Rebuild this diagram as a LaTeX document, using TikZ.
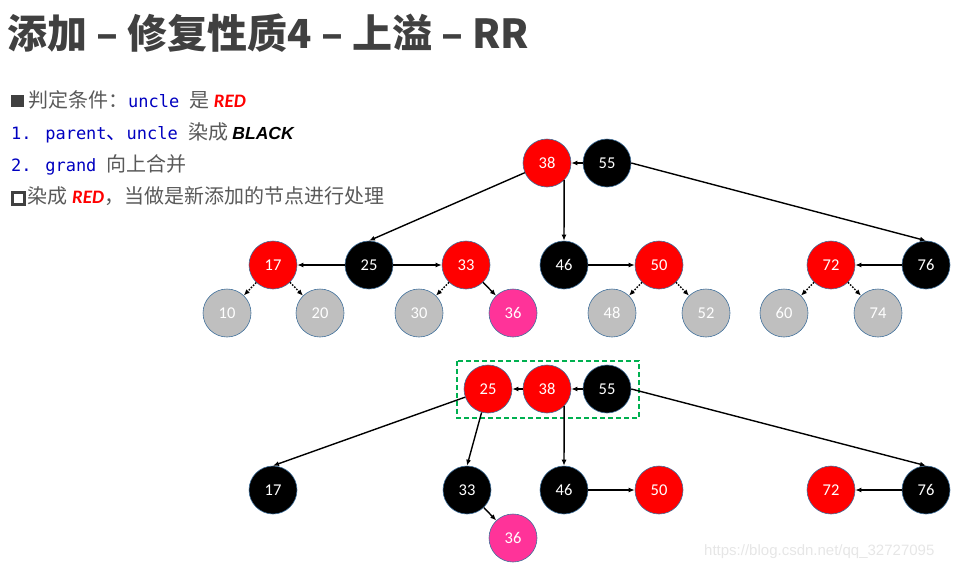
\documentclass[tikz,border=0pt]{standalone}
\usepackage{fontspec}
\setmainfont{Carlito}
\newfontfamily\cjk{Noto Sans CJK SC}
\newfontfamily\mono{DejaVu Sans Mono}
\newfontfamily\arialish{Liberation Sans}
\newfontfamily\wm{Liberation Sans}
\usetikzlibrary{arrows.meta}
\definecolor{bord}{HTML}{41719C}
\definecolor{rednode}{HTML}{FF0000}
\definecolor{graynode}{HTML}{BFBFBF}
\definecolor{pinknode}{HTML}{FF3399}
\definecolor{titlegray}{HTML}{404040}
\definecolor{bodygray}{HTML}{595959}
\definecolor{codeblue}{HTML}{0000C0}
\definecolor{boxgreen}{HTML}{00B050}
\definecolor{wmgray}{HTML}{E6E6E6}
\newcommand{\cj}[1]{{\cjk\fontsize{20}{20}\selectfont #1}}
\newcommand{\cd}[1]{{\mono\fontsize{17}{17}\selectfont\color{codeblue}#1}}
\newcommand{\redw}{{\fontsize{19}{19}\selectfont\color{rednode}\bfseries\itshape RED}}
\newcommand{\hollowsq}{{\color{titlegray}\fboxrule=2.8pt\fboxsep=0pt\fbox{\rule{0pt}{9pt}\hspace{9pt}}}\hspace{2pt}}
\newcommand{\solidsq}{{\color{titlegray}\rule{13pt}{12pt}}\hspace{4pt}}
\begin{document}
\begin{tikzpicture}[x=1pt,y=-1pt,
  rb/.style={circle, minimum size=48pt, inner sep=0pt, draw=bord, line width=0.6pt, text=white,
             font=\fontsize{16.5}{16.5}\selectfont},
  redn/.style={rb, fill=rednode},
  blkn/.style={rb, fill=black},
  grayn/.style={rb, fill=graynode},
  pinkn/.style={rb, fill=pinknode},
  arr/.style={-{Latex[length=6pt,width=5pt]}, line width=1.4pt},
  dotarr/.style={arr, dash pattern=on 1.6pt off 1.4pt},
  txt/.style={anchor=base west, inner sep=0pt, font=\fontsize{19}{19}\selectfont, text=bodygray}
]
\useasboundingbox (0,0) rectangle (957,568);

% title
\node[anchor=base west, inner sep=0pt, text=titlegray, font=\cjk\bfseries\fontsize{40}{40}\selectfont]
  (title) at (7,48) {添加 – 修复性质4 – 上溢 – RR};

% text lines
\node[txt] (l1) at (11,107) {\solidsq\cj{判定条件：}\cd{uncle }\cj{是} \redw};
\node[txt] (l2) at (11,139) {\cd{1. parent}\cj{\color{codeblue}、}\cd{uncle }\cj{染成} {\arialish\fontsize{17.5}{17.5}\selectfont\color{black}\bfseries\itshape BLACK}};
\node[txt] (l3) at (11,171) {\cd{2. grand }\cj{向上合并}};
\node[txt] (l4) at (11,203) {\hollowsq\cj{染成} \redw\cj{，当做是新添加的节点进行处理}};

% top tree
\node[redn] (t38) at (547,163) {38};
\node[blkn] (t55) at (607,163) {55};
\node[redn] (t17) at (273,265) {17};
\node[blkn] (t25) at (369,265) {25};
\node[redn] (t33) at (466,265) {33};
\node[blkn] (t46) at (564,265) {46};
\node[redn] (t50) at (659,265) {50};
\node[redn] (t72) at (831,265) {72};
\node[blkn] (t76) at (926,265) {76};
\node[grayn] (t10) at (227,313) {10};
\node[grayn] (t20) at (320,313) {20};
\node[grayn] (t30) at (419,313) {30};
\node[pinkn] (t36) at (513,313) {36};
\node[grayn] (t48) at (612,313) {48};
\node[grayn] (t52) at (706,313) {52};
\node[grayn] (t60) at (784,313) {60};
\node[grayn] (t74) at (878,313) {74};

\draw[arr] (t55) -- (t38);
\draw[arr] (t38) -- (t25.north);
\draw[arr] (t38.-45) -- (t46.north);
\draw[arr] (t55.east) -- (t76.north);
\draw[arr] (t25) -- (t17);
\draw[arr] (t25) -- (t33);
\draw[arr] (t46) -- (t50);
\draw[arr] (t76) -- (t72);
\draw[arr] (t33) -- (t36);
\draw[dotarr] (t17) -- (t10);
\draw[dotarr] (t17) -- (t20);
\draw[dotarr] (t33) -- (t30);
\draw[dotarr] (t50) -- (t48);
\draw[dotarr] (t50) -- (t52);
\draw[dotarr] (t72) -- (t60);
\draw[dotarr] (t72) -- (t74);

% bottom tree
\node[redn] (b25) at (488,389) {25};
\node[redn] (b38) at (547,389) {38};
\node[blkn] (b55) at (607,389) {55};
\node[blkn] (b17) at (273,490) {17};
\node[blkn] (b33) at (467,490) {33};
\node[blkn] (b46) at (564,490) {46};
\node[redn] (b50) at (659,490) {50};
\node[redn] (b72) at (831,490) {72};
\node[blkn] (b76) at (926,490) {76};
\node[pinkn] (b36) at (513,538) {36};

\draw[boxgreen, line width=2pt, dash pattern=on 5pt off 3pt] (457,361) rectangle (639,418);

\draw[arr] (b55) -- (b38);
\draw[arr] (b38) -- (b25);
\draw[arr] (b25) -- (b17.north);
\draw[arr] (b25) -- (b33.north);
\draw[arr] (b38.-45) -- (b46.north);
\draw[arr] (b55.east) -- (b76.north);
\draw[arr] (b33) -- (b36);
\draw[arr] (b46) -- (b50);
\draw[arr] (b76) -- (b72);

% watermark
\node[anchor=base west, inner sep=0pt, text=wmgray, font=\wm\fontsize{15}{15}\selectfont]
  (wmark) at (704,555) {https://blog.csdn.net/qq\_32727095};
\end{tikzpicture}
\end{document}
